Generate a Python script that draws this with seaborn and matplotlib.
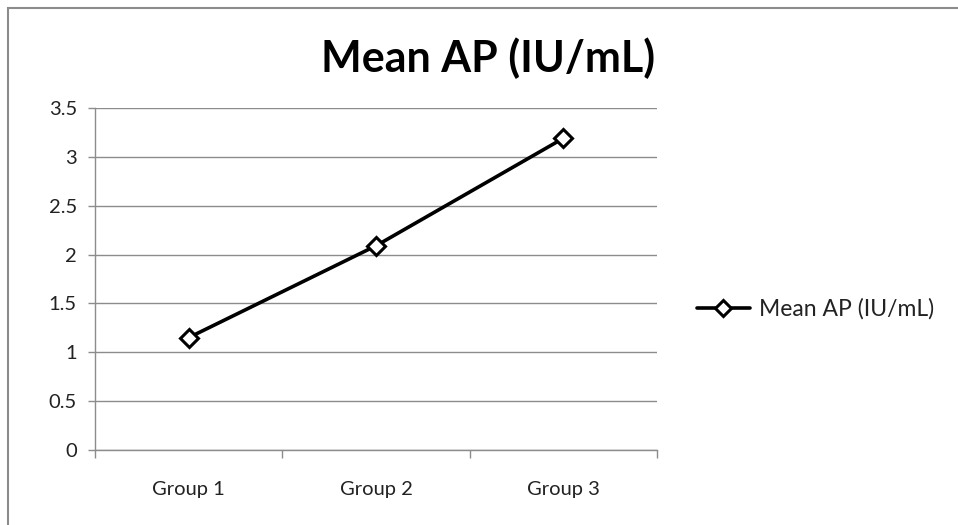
import matplotlib
matplotlib.use("Agg")
import matplotlib.pyplot as plt
import seaborn as sns
import pandas as pd
from matplotlib.lines import Line2D
from matplotlib.patches import Rectangle

categories = ["Group 1", "Group 2", "Group 3"]
mean_ap = [1.15, 2.09, 3.19]
series_name = "Mean AP (IU/mL)"
y_ticks = [0, 0.5, 1, 1.5, 2, 2.5, 3, 3.5]
y_tick_labels = ["0", "0.5", "1", "1.5", "2", "2.5", "3", "3.5"]

df = pd.DataFrame({"group": categories, "value": mean_ap})

sns.set_theme(style="white")
plt.rcParams["font.family"] = ["Lato", "DejaVu Sans"]

fig = plt.figure(figsize=(9.58, 5.25), dpi=100)
ax = fig.add_axes([95/958, 1-450/525, (657-95)/958, (450-108)/525])

sns.lineplot(data=df, x="group", y="value", ax=ax, color="black", linewidth=2.6,
             marker="D", markersize=9, markerfacecolor="white",
             markeredgecolor="black", markeredgewidth=2.2, sort=False)

ax.set_xlim(-0.5, 2.5)
ax.set_ylim(0, 3.5)
ax.set_yticks(y_ticks)
ax.set_yticklabels(y_tick_labels)
ax.set_xticks(range(len(categories)))
ax.set_xticklabels(categories)
ax.set_xticks([-0.5, 0.5, 1.5, 2.5], minor=True)
ax.set_xlabel("")
ax.set_ylabel("")

ax.grid(axis="y", color="#8c8c8c", linewidth=1.0)
ax.set_axisbelow(True)
for s in ["top", "right"]:
    ax.spines[s].set_visible(False)
ax.spines["left"].set_color("#8c8c8c")
ax.spines["bottom"].set_color("#8c8c8c")
ax.spines["left"].set_linewidth(1.0)
ax.spines["bottom"].set_linewidth(1.0)

ax.tick_params(axis="y", which="major", left=True, length=5, width=1.0,
               color="#8c8c8c", labelsize=14.5, labelcolor="#222222", pad=8)
ax.tick_params(axis="x", which="major", bottom=False, length=0,
               labelsize=14.5, labelcolor="#222222", pad=22)
ax.tick_params(axis="x", which="minor", bottom=True, length=6, width=1.0,
               color="#8c8c8c", direction="out")

fig.text(488/958, 1-58/525, series_name, ha="center", va="center",
         fontsize=31, fontweight="bold", color="black")

handle = Line2D([0], [0], color="black", linewidth=2.6, marker="D",
                markersize=8, markerfacecolor="white", markeredgecolor="black",
                markeredgewidth=2.2)
fig.legend([handle], [series_name], loc="center left",
           bbox_to_anchor=(697/958, 1-309/525), frameon=False,
           fontsize=16.5, handlelength=2.3, handletextpad=0.4,
           labelcolor="#222222", borderaxespad=0, borderpad=0)

fig.patches.append(Rectangle((8/958, -0.1), 1.1, 1-8/525+0.1,
                             transform=fig.transFigure, fill=False,
                             edgecolor="#8c8c8c", linewidth=1.5))

fig.savefig("out.png", dpi=100, facecolor="white")
